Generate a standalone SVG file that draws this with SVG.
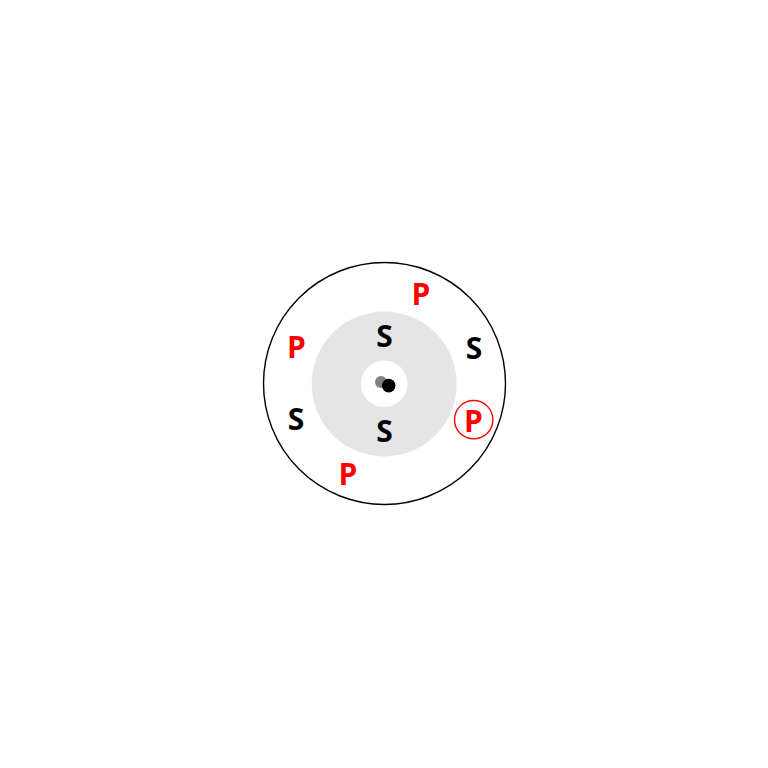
<svg xmlns="http://www.w3.org/2000/svg" width="768" height="768" viewBox="0 0 768 768">
<style>
.lbl{font-family:"Open Sans","Noto Sans","DejaVu Sans",sans-serif;font-weight:700;font-size:30px;text-anchor:middle}
.s{fill:#000}
.p{fill:#ff0000}
</style>
<rect width="768" height="768" fill="#fff"/>
<g id="outer"><circle cx="384.5" cy="383.5" r="121" fill="none" stroke="#000" stroke-width="1.4"/></g>
<g id="disc"><circle cx="384.2" cy="384" r="72.5" fill="#e5e5e5"/></g>
<g id="hole"><circle cx="384.2" cy="383.8" r="23.3" fill="#fff"/></g>
<g id="dots">
<circle cx="381" cy="382" r="6" fill="#808080"/>
<circle cx="388.7" cy="385.6" r="6.8" fill="#000"/>
</g>
<g id="labels">
<text class="lbl p" x="420.8" y="305">P</text>
<text class="lbl s" x="384.5" y="346.5">S</text>
<text class="lbl p" x="296.3" y="358">P</text>
<text class="lbl s" x="474" y="358.5">S</text>
<text class="lbl s" x="296" y="429.5">S</text>
<text class="lbl s" x="384.5" y="442">S</text>
<text class="lbl p" x="473.5" y="432">P</text>
<text class="lbl p" x="348" y="484.5">P</text>
</g>
<g id="marker"><circle cx="473.7" cy="419.7" r="19.2" fill="none" stroke="#ff0000" stroke-width="1.4"/></g>
</svg>
